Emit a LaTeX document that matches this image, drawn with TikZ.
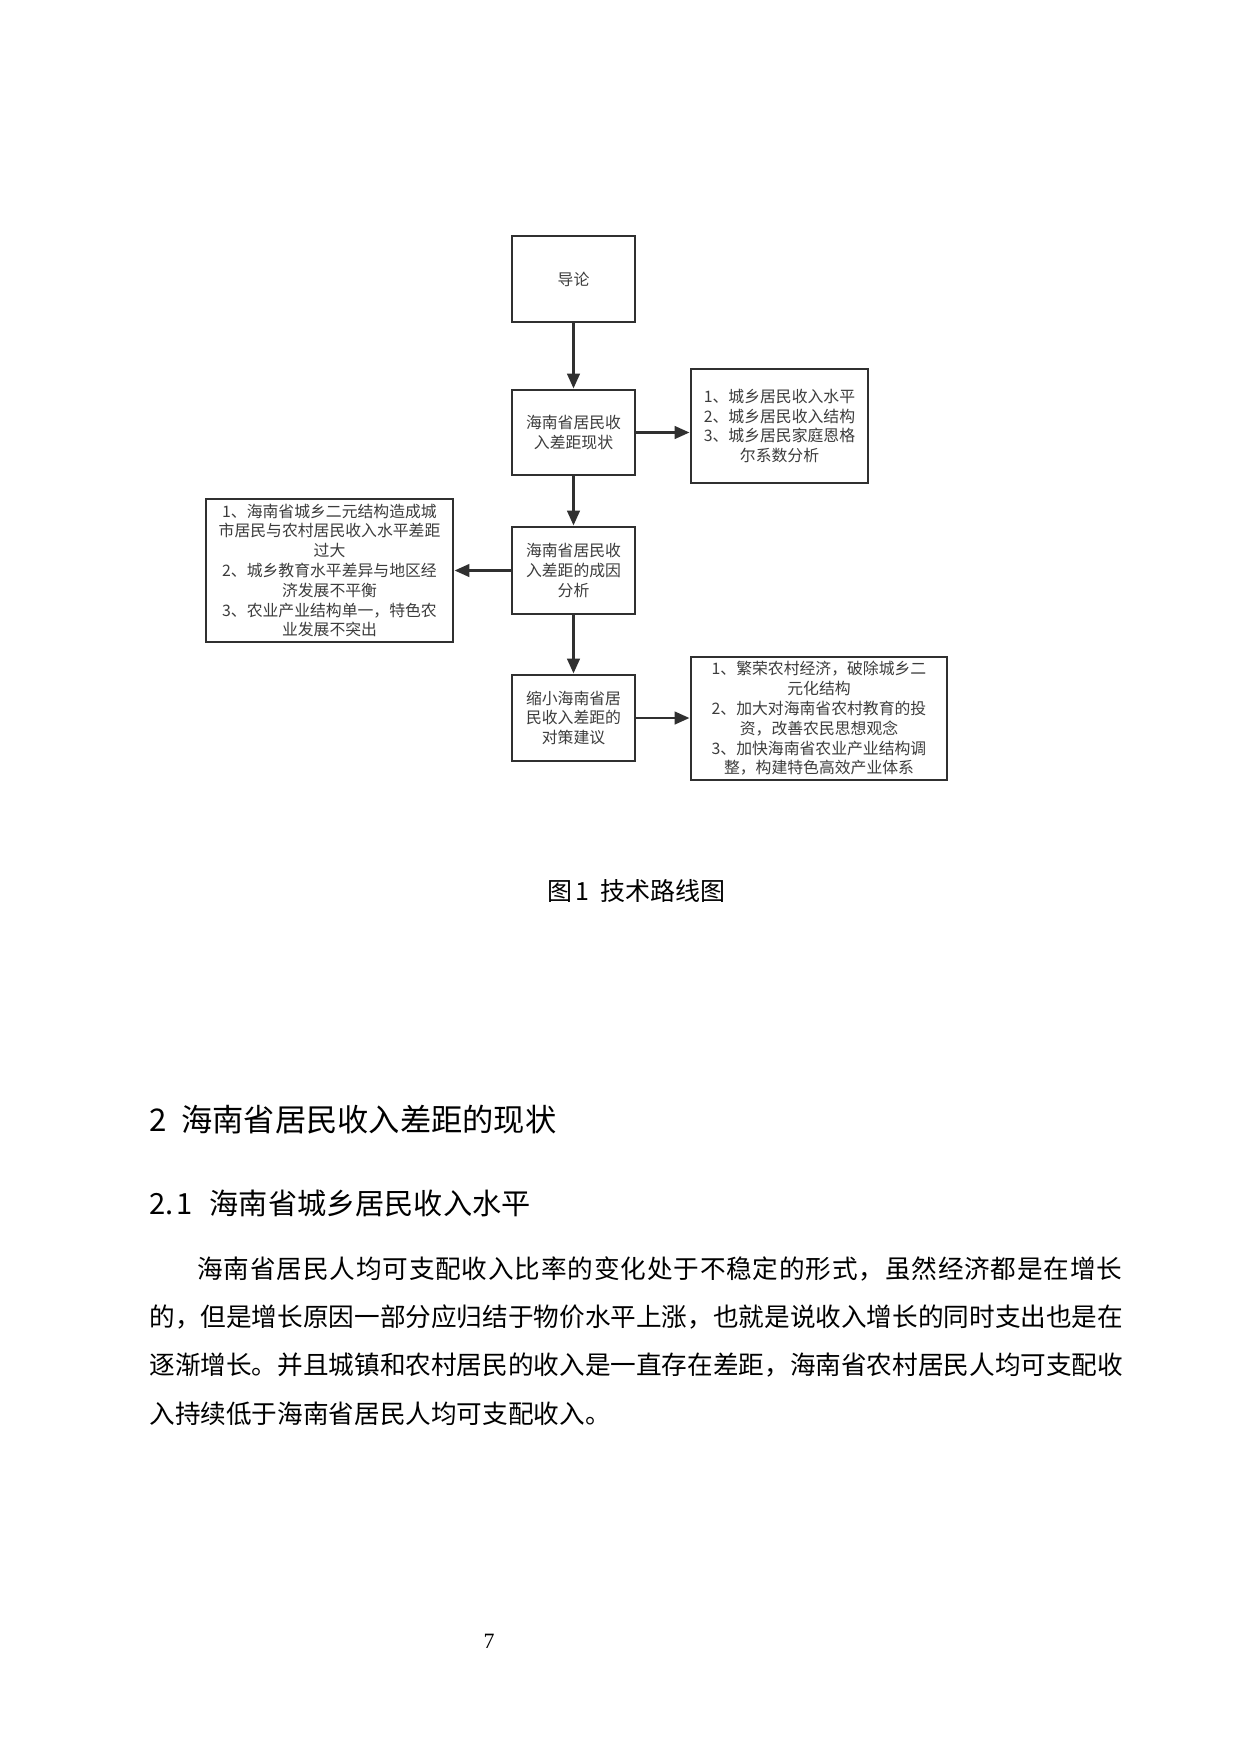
\documentclass[tikz,border=0pt]{standalone}
\usepackage{fontspec}
\usetikzlibrary{arrows.meta}
\newfontfamily\cjk{Noto Sans CJK SC}
\newfontfamily\serifnum{Liberation Serif}
\definecolor{linec}{HTML}{303030}
\definecolor{boxtext}{HTML}{3C3C3C}
\def\spreadchars#1{\spreadA#1\relax}
\def\spreadA#1{\ifx#1\relax\else #1\hskip0pt plus 1fil\expandafter\spreadA\fi}
\tikzset{
  flowbox/.style={draw=linec, line width=1.4pt, align=center, inner sep=0pt,
    text=boxtext, font=\cjk\fontsize{7.6}{9.5}\selectfont},
  flow/.style={draw=linec, line width=1.4pt, -{Triangle[length=7.2pt,width=6pt]}},
  bodyline/.style={anchor=west, inner sep=0pt, font=\cjk\fontsize{12.3}{14}\selectfont},
  headline/.style={anchor=west, inner sep=0pt},
}
\begin{document}
\begin{tikzpicture}[x=0.48pt, y=-0.48pt]
\fill[white] (0,0) rectangle (1240,1754);
\useasboundingbox (0,0) rectangle (1240,1754);

% flow chart
\node[flowbox, minimum width=59.04pt, minimum height=41.28pt] (b1) at (573.5,279) {导论};
\node[flowbox, minimum width=59.04pt, minimum height=40.8pt] (b2) at (573.5,432.5) {海南省居民收\\入差距现状};
\node[flowbox, minimum width=59.04pt, minimum height=41.76pt] (b3) at (573.5,570.5) {海南省居民收\\入差距的成因\\分析};
\node[flowbox, minimum width=59.04pt, minimum height=41.28pt] (b4) at (573.5,718) {缩小海南省居\\民收入差距的\\对策建议};
\node[flowbox, minimum width=84.96pt, minimum height=54.72pt] (r1) at (779.5,426) {1、城乡居民收入水平\\2、城乡居民收入结构\\3、城乡居民家庭恩格\\尔系数分析};
\node[flowbox, minimum width=118.56pt, minimum height=68.64pt] (l1) at (329.5,570.5) {1、海南省城乡二元结构造成城\\市居民与农村居民收入水平差距\\过大\\2、城乡教育水平差异与地区经\\济发展不平衡\\3、农业产业结构单一，特色农\\业发展不突出};
\node[flowbox, minimum width=122.88pt, minimum height=59.04pt] (r2) at (819,718.5) {1、繁荣农村经济，破除城乡二\\元化结构\\2、加大对海南省农村教育的投\\资，改善农民思想观念\\3、加快海南省农业产业结构调\\整，构建特色高效产业体系};

\draw[flow] (b1) -- (b2);
\draw[flow] (b2) -- (b3);
\draw[flow] (b3) -- (b4);
\draw[flow] (b2.east) -- (b2.east -| r1.west);
\draw[flow] (b3.west) -- (b3.west -| l1.east);
\draw[flow] (b4.east) -- (b4.east -| r2.west);

% caption
\node[inner sep=0pt, font=\cjk\fontsize{12}{14}\selectfont] (cap) at (636.5,891) {图\hspace{1.5pt}1\hspace{5pt}技术路线图};

% headings
\node[headline, font=\cjk\fontsize{15}{18}\selectfont] (h1) at (149,1120) {2\hspace{7pt}海南省居民收入差距的现状};
\node[headline, font=\cjk\fontsize{14}{17}\selectfont] (h2) at (149,1203) {2.\hspace{1.5pt}1\hspace{8pt}海南省城乡居民收入水平};

% body text
\node[bodyline] (p1) at (197,1269) {\hbox to 444pt{\spreadchars{海南省居民人均可支配收入比率的变化处于不稳定的形式，虽然经济都是在增长}\unskip}};
\node[bodyline] (p2) at (149,1317) {\hbox to 467.04pt{\spreadchars{的，但是增长原因一部分应归结于物价水平上涨，也就是说收入增长的同时支出也是在}\unskip}};
\node[bodyline] (p3) at (149,1365) {\hbox to 467.04pt{\spreadchars{逐渐增长。并且城镇和农村居民的收入是一直存在差距，海南省农村居民人均可支配收}\unskip}};
\node[bodyline] (p4) at (149,1414) {入持续低于海南省居民人均可支配收入。};

% page number
\node[inner sep=0pt, font=\serifnum\fontsize{10.5}{12}\selectfont] (pg) at (489,1641) {7};
\end{tikzpicture}
\end{document}
